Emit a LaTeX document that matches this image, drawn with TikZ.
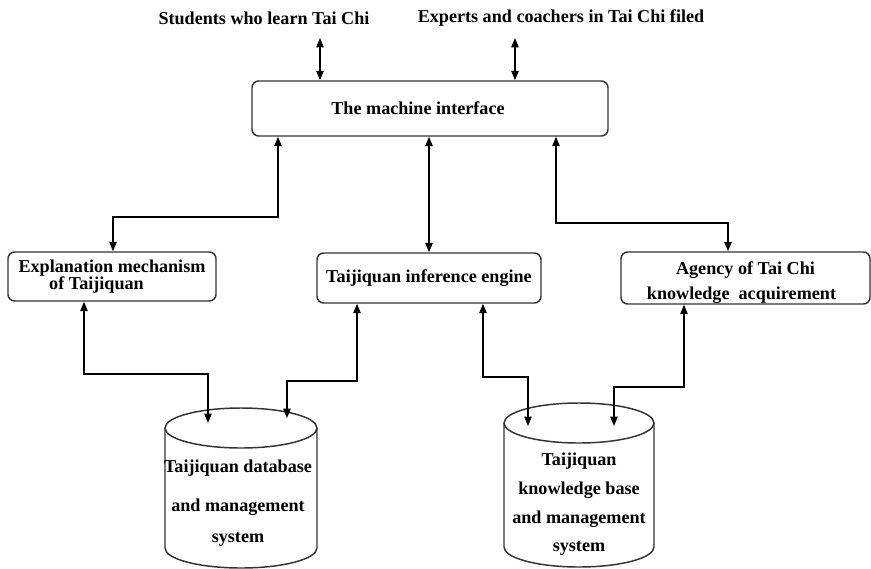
\documentclass[tikz,border=0pt]{standalone}
\usepackage{fontspec}
\setmainfont{Liberation Serif}
\usetikzlibrary{arrows.meta}

\tikzset{
  box/.style={draw=black!80, line width=1.1pt, rounded corners=5pt, inner sep=0pt},
  dbline/.style={draw=black!80, line width=1.1pt},
  link/.style={line width=1pt, {Triangle[length=7pt,width=5.5pt]}-{Triangle[length=7pt,width=5.5pt]}},
}

\begin{document}
\begin{tikzpicture}[x=0.75pt,y=0.75pt,yscale=-1,xscale=1,font=\fontsize{13.6}{15.5}\selectfont\bfseries]
\useasboundingbox (0,0) rectangle (871,568);

% users on top
\node (students) at (264,18) {Students who learn Tai Chi};
\node (experts) at (561,18) {Experts and coachers in Tai Chi filed};

% boxes
\node [box, minimum width=267pt, minimum height=41.25pt] (iface) at (430,108.5) {\hspace*{-18pt}The machine interface};
\node [box, minimum width=156pt, minimum height=36.75pt, align=left] (expl) at (112,276.5) {Explanation mechanism\\[-2.5pt]\hspace*{23pt}of Taijiquan};
\node [box, minimum width=168pt, minimum height=37.5pt] (infer) at (429,278) {Taijiquan inference engine};
\node [box, minimum width=186.75pt, minimum height=39pt, align=center] (agency) at (745.5,278) {\rule{0pt}{16pt}Agency of Tai Chi\\[3pt]knowledge~ acquirement\hspace*{6pt}};

% databases
\draw [dbline] (165,428) -- (165,548) arc (180:0:76 and 20) -- (317,428);
\draw [dbline] (241,428) ellipse (76 and 20);
\draw [dbline] (504,423) -- (504,547) arc (180:0:75 and 20) -- (654,423);
\draw [dbline] (579,423) ellipse (75 and 20);
\node [align=center] (dbase) at (238,503) {Taijiquan database\\[13.5pt]and management\\[7.5pt]system};
\node [align=center] (kbase) at (579,504.5) {Taijiquan\\[6pt]knowledge base\\[6pt]and management\\[6pt]system};

% corner points of the connectors
\coordinate (s1) at (320,38);
\coordinate (e1) at (515,38);
\coordinate (a1) at (278,217);
\coordinate (a2) at (113,217);
\coordinate (b1) at (556,223);
\coordinate (b2) at (728,223);
\coordinate (c1) at (84,374);
\coordinate (c2) at (208,374);
\coordinate (c3) at (208,423);
\coordinate (d1) at (357,381);
\coordinate (d2) at (287,381);
\coordinate (d3) at (287,418);
\coordinate (f1) at (483,377);
\coordinate (f2) at (528,377);
\coordinate (f3) at (528,426);
\coordinate (g1) at (684,387);
\coordinate (g2) at (614,387);
\coordinate (g3) at (614,426);

% connectors
\draw [link] (s1) -- (s1 |- iface.north);
\draw [link] (e1) -- (e1 |- iface.north);
\draw [link] (a1 |- iface.south) -- (a1) -- (a2) -- (a2 |- expl.north);
\draw [link] (infer.north |- iface.south) -- (infer.north);
\draw [link] (b1 |- iface.south) -- (b1) -- (b2) -- (b2 |- agency.north);
\draw [link] (c1 |- expl.south) -- (c1) -- (c2) -- (c3);
\draw [link] (d1 |- infer.south) -- (d1) -- (d2) -- (d3);
\draw [link] (f1 |- infer.south) -- (f1) -- (f2) -- (f3);
\draw [link] (g1 |- agency.south) -- (g1) -- (g2) -- (g3);

\end{tikzpicture}
\end{document}
